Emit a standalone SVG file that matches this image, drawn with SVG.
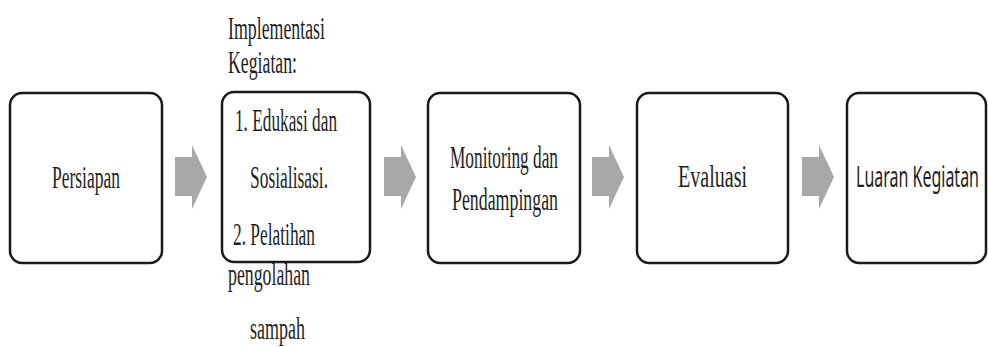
<svg xmlns="http://www.w3.org/2000/svg" width="988" height="347" viewBox="0 0 988 347">
<defs>
<style>
.box{fill:#fff;stroke:#1a1a1a;stroke-width:2.5}
.t{font-family:"Liberation Serif","Times New Roman",serif;font-size:32px;fill:#1e1e1e}
.s{font-family:"Noto Sans","Liberation Sans",sans-serif;font-size:29px;fill:#1e1e1e}
.arr{fill:#a8a8a8}
</style>
<path id="arrow" d="M0,157 H17 V145 L32,177 L17,209 V196 H0 Z"/>
</defs>
<rect width="988" height="347" fill="#fff"/>
<g id="connectors">
<use href="#arrow" class="arr" x="175"/>
<use href="#arrow" class="arr" x="384"/>
<use href="#arrow" class="arr" x="592"/>
<use href="#arrow" class="arr" x="802"/>
</g>
<g id="persiapan">
<rect class="box" x="10" y="93" width="152" height="170" rx="12"/>
<text class="t" x="52" y="188" textLength="68" lengthAdjust="spacingAndGlyphs">Persiapan</text>
</g>
<g id="implementasi">
<text class="t" x="228" y="39" textLength="97" lengthAdjust="spacingAndGlyphs">Implementasi</text>
<text class="t" x="228" y="73" textLength="69" lengthAdjust="spacingAndGlyphs">Kegiatan:</text>
<rect class="box" x="222" y="92" width="148" height="170" rx="12"/>
<text class="t" x="235" y="131" textLength="102" lengthAdjust="spacingAndGlyphs">1. Edukasi dan</text>
<text class="t" x="250" y="188" textLength="78" lengthAdjust="spacingAndGlyphs">Sosialisasi.</text>
<text class="t" x="233" y="245" textLength="82" lengthAdjust="spacingAndGlyphs">2. Pelatihan</text>
<text class="t" x="228" y="285" textLength="82" lengthAdjust="spacingAndGlyphs">pengolahan</text>
<text class="t" x="250" y="339" textLength="55" lengthAdjust="spacingAndGlyphs">sampah</text>
</g>
<g id="monitoring">
<rect class="box" x="428" y="93" width="152" height="170" rx="12"/>
<text class="t" x="450" y="168" textLength="108" lengthAdjust="spacingAndGlyphs">Monitoring dan</text>
<text class="t" x="452" y="210" textLength="106" lengthAdjust="spacingAndGlyphs">Pendampingan</text>
</g>
<g id="evaluasi">
<rect class="box" x="637" y="93" width="151" height="170" rx="12"/>
<text class="t" x="678" y="187" textLength="69" lengthAdjust="spacingAndGlyphs">Evaluasi</text>
</g>
<g id="luaran">
<rect class="box" x="847" y="93" width="139" height="170" rx="12"/>
<text class="s" transform="translate(856,187) scale(0.6,1)" x="0" y="0" textLength="205" lengthAdjust="spacingAndGlyphs">Luaran Kegiatan</text>
</g>
</svg>
